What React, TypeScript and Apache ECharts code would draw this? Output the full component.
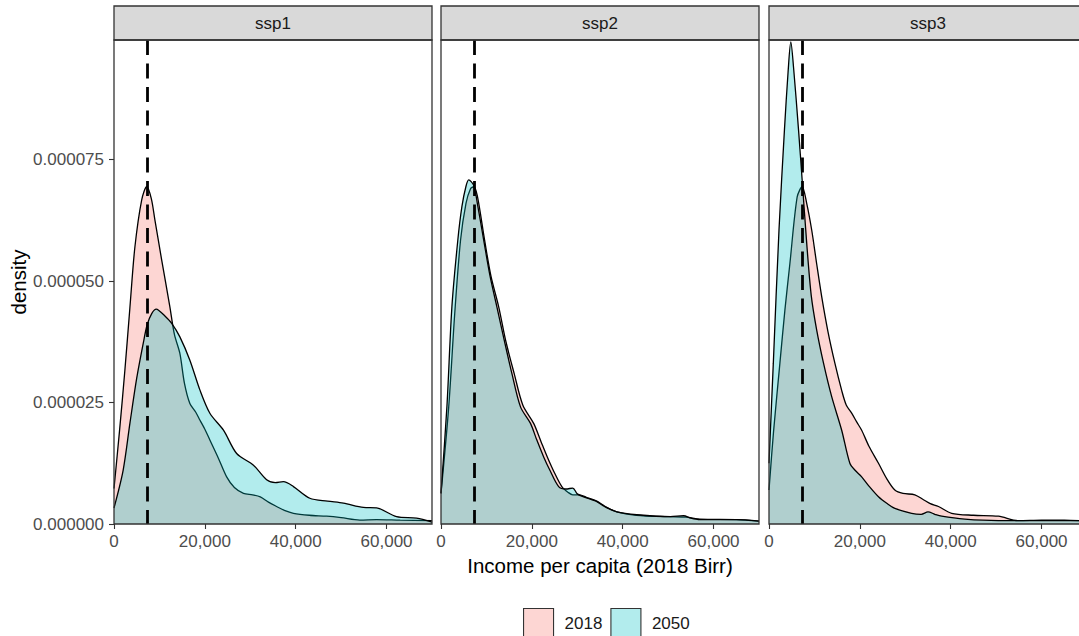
import React, { useEffect, useRef } from 'react';
import * as echarts from 'echarts';

// ---------- data ----------
const PANELS = ['ssp1', 'ssp2', 'ssp3'];
const YEARS = ['2018', '2050'];
const X_TICKS = [0, 20000, 40000, 60000];
const Y_TICKS = [0, 0.000025, 0.00005, 0.000075];
const X_MAX = 70000;
const Y_MAX = 0.0000996;
const MEDIAN_2018 = 7300; // dashed reference line (Birr)
const X_UNIT = 1000; // income values below are in thousand Birr
const Y_UNIT = 1e-5; // density values below are in units of 1e-5

const ssp1_2018 = [
  [0, 0.73], [1.2, 1.9], [2.4, 3.17], [3.5, 4.45], [4.6, 5.7], [6.1, 6.67], [7.2, 6.94], [8.2, 6.7],
  [9, 6.26], [10.5, 5.43], [12.3, 4.47], [13.3, 3.9], [14.5, 3.51], [15.5, 2.9], [16.7, 2.48],
  [18, 2.3], [18.9, 2.14], [20, 1.95], [21.1, 1.73], [23, 1.35], [24.8, 0.97], [26.5, 0.75],
  [28.5, 0.63], [30.5, 0.6], [32.2, 0.56], [34, 0.45], [35.8, 0.36], [37.5, 0.28], [39.5, 0.22],
  [43, 0.18], [46.8, 0.16], [50, 0.13], [54.1, 0.08], [57.8, 0.09], [63, 0.08], [70, 0.07],
];
const ssp1_2050 = [
  [0, 0.33], [2, 1.1], [3.5, 2.07], [5, 3.0], [6.5, 3.75], [7.3, 4.1], [8.3, 4.33], [9.3, 4.42],
  [9.8, 4.4], [11, 4.3], [12.7, 4.13], [14.5, 3.85], [16.7, 3.37], [18.9, 2.76], [21.1, 2.28],
  [24.1, 1.93], [27, 1.45], [30.7, 1.21], [33.6, 0.91], [35.5, 0.85], [37.3, 0.87], [39.5, 0.77],
  [43.1, 0.53], [47, 0.47], [50.5, 0.43], [54.9, 0.34], [57.8, 0.33], [62.2, 0.15], [66.6, 0.12],
  [70, 0.04],
];
const ssp2_2018 = [
  [0, 0.63], [1.7, 2.41], [3, 4.3], [4.3, 5.84], [5.5, 6.6], [6.5, 6.9], [7.2, 6.94], [8, 6.75],
  [9.6, 5.84], [11, 5.1], [12.7, 4.47], [14.3, 3.75], [16.1, 3.1], [18, 2.45], [20.4, 2.07],
  [22, 1.7], [23.4, 1.38], [25, 1.05], [26.6, 0.77], [28, 0.65], [29, 0.6], [30.5, 0.6],
  [32, 0.55], [34.3, 0.47], [36, 0.37], [38.7, 0.25], [43, 0.18], [50, 0.15], [54, 0.14],
  [57, 0.1], [65, 0.09], [70, 0.06],
];
const ssp2_2050 = [
  [0, 0.63], [1.3, 2.41], [2.4, 4.47], [3.7, 5.84], [4.6, 6.53], [5.5, 6.95], [6.1, 7.08],
  [7.2, 6.97], [8, 6.6], [9.4, 5.84], [10.8, 5.1], [12.3, 4.47], [14, 3.75], [15.6, 3.1],
  [17.5, 2.41], [19.7, 2.07], [21, 1.75], [22.6, 1.38], [24, 1.1], [25.9, 0.77], [27.5, 0.72],
  [29, 0.74], [30, 0.62], [31.4, 0.56], [34.3, 0.46], [36, 0.36], [38.7, 0.25], [43.1, 0.19],
  [50.5, 0.15], [53.4, 0.17], [55, 0.12], [57, 0.09], [65, 0.09], [70, 0.06],
];
const ssp3_2018 = [
  [0, 0.7], [1, 1.9], [2.4, 3.31], [3.5, 4.4], [4.6, 5.36], [6.2, 6.73], [7.3, 6.94], [8.3, 6.6],
  [9.4, 6.05], [10.5, 5.35], [11.6, 4.68], [13, 3.95], [14.5, 3.31], [16, 2.75], [17, 2.45],
  [18.2, 2.28], [19.3, 2.1], [20.4, 1.93], [22, 1.6], [24.1, 1.25], [26, 0.92], [27.7, 0.7],
  [29.5, 0.63], [32.1, 0.6], [34, 0.5], [35.5, 0.42], [37.3, 0.36], [40.2, 0.22], [45, 0.18],
  [50.5, 0.16], [54.9, 0.07], [60, 0.08], [65, 0.08], [70, 0.06],
];
const ssp3_2050 = [
  [0, 1.25], [0.95, 3.31], [2.2, 6.05], [3.4, 8.11], [4.2, 9.3], [4.8, 9.92], [5.4, 9.4],
  [6.5, 8.11], [7.3, 7.08], [8.3, 5.78], [9.3, 4.7], [10.5, 3.99], [12, 3.31], [13.8, 2.62],
  [16, 1.93], [17.8, 1.25], [19, 1.1], [20.4, 0.97], [22, 0.78], [24.1, 0.56], [26, 0.42],
  [27.7, 0.32], [31.4, 0.22], [33.5, 0.2], [35, 0.25], [36.5, 0.2], [38, 0.16], [43.1, 0.1],
  [50.5, 0.07], [60, 0.07], [70, 0.07],
];
const SERIES_DATA = [
  [ssp1_2018, ssp1_2050],
  [ssp2_2018, ssp2_2050],
  [ssp3_2018, ssp3_2050],
];

// ---------- style / layout ----------
const FONT = '"Liberation Sans", Arial, Helvetica, sans-serif';
const FILLS = ['rgba(248,118,109,0.3)', 'rgba(0,191,196,0.3)'];
const GRID_LEFTS = [114, 441, 769];
const GRID_W = 318;
const GRID_TOP = 40;
const GRID_H = 484;
const STRIP_TOP = 6;

function buildOption() {
  const grids = GRID_LEFTS.map((left) => ({
    left,
    top: GRID_TOP,
    width: GRID_W,
    height: GRID_H,
    show: false,
  }));

  const xAxes = PANELS.map((_, i) => ({
    type: 'value',
    gridIndex: i,
    min: 0,
    max: X_MAX,
    interval: 20000,
    splitLine: { show: false },
    axisLine: { show: false },
    axisTick: {
      show: true,
      length: 5,
      customValues: X_TICKS,
      lineStyle: { color: '#333333', width: 1.1 },
    },
    axisLabel: {
      customValues: X_TICKS,
      margin: 9,
      fontSize: 17,
      color: '#4D4D4D',
      fontFamily: FONT,
      formatter: (v: number) => v.toLocaleString('en-US'),
    },
    name: i === 1 ? 'Income per capita (2018 Birr)' : '',
    nameLocation: 'middle',
    nameGap: 30,
    nameTextStyle: { fontSize: 20.5, color: '#000', fontFamily: FONT },
  }));

  const yAxes = PANELS.map((_, i) => ({
    type: 'value',
    gridIndex: i,
    min: 0,
    max: Y_MAX,
    interval: 0.000025,
    show: i === 0,
    splitLine: { show: false },
    axisLine: { show: false },
    axisTick: {
      show: true,
      length: 5,
      customValues: Y_TICKS,
      lineStyle: { color: '#333333', width: 1.1 },
    },
    axisLabel: {
      customValues: Y_TICKS,
      margin: 10,
      fontSize: 17,
      color: '#4D4D4D',
      fontFamily: FONT,
      formatter: (v: number) => v.toFixed(6),
    },
    name: i === 0 ? 'density' : '',
    nameLocation: 'middle',
    nameGap: 78,
    nameTextStyle: { fontSize: 20.5, color: '#000', fontFamily: FONT },
  }));

  const series: any[] = [];
  PANELS.forEach((_, p) => {
    YEARS.forEach((year, k) => {
      const s: any = {
        type: 'line',
        name: year,
        xAxisIndex: p,
        yAxisIndex: p,
        data: SERIES_DATA[p][k].map(([x, d]) => [x * X_UNIT, d * Y_UNIT]),
        showSymbol: false,
        symbol: 'none',
        smooth: 0.3,
        color: FILLS[k],
        lineStyle: { color: '#000', width: 1.3 },
        areaStyle: { color: FILLS[k], opacity: 1 },
        z: 2 + k,
        silent: true,
      };
      if (k === 1) {
        s.markLine = {
          silent: true,
          symbol: ['none', 'none'],
          label: { show: false },
          z: 10,
          lineStyle: { color: '#000', width: 2.8, type: [15, 8.5] },
          data: [[{ coord: [MEDIAN_2018, Y_MAX] }, { coord: [MEDIAN_2018, 0] }]],
        };
      }
      series.push(s);
    });
  });

  const graphics: any[] = [];
  PANELS.forEach((name, p) => {
    const left = GRID_LEFTS[p];
    graphics.push({
      type: 'rect',
      z: 100,
      silent: true,
      shape: { x: left, y: STRIP_TOP, width: GRID_W, height: GRID_TOP - STRIP_TOP },
      style: { fill: '#D9D9D9', stroke: '#333333', lineWidth: 1.3 },
    });
    graphics.push({
      type: 'text',
      z: 101,
      silent: true,
      x: left + GRID_W / 2,
      y: (STRIP_TOP + GRID_TOP) / 2,
      style: {
        text: name,
        fill: '#1A1A1A',
        fontSize: 17,
        fontFamily: FONT,
        align: 'center',
        verticalAlign: 'middle',
      },
    });
    graphics.push({
      type: 'rect',
      z: 100,
      silent: true,
      shape: { x: left, y: GRID_TOP, width: GRID_W, height: GRID_H },
      style: { fill: 'none', stroke: '#333333', lineWidth: 1.3 },
    });
  });

  return {
    animation: false,
    backgroundColor: '#ffffff',
    grid: grids,
    xAxis: xAxes,
    yAxis: yAxes,
    series,
    graphic: graphics,
    legend: {
      data: YEARS.map((y, k) => ({
        name: y,
        icon: 'rect',
        itemStyle: { color: FILLS[k], borderColor: '#333333', borderWidth: 1.1 },
      })),
      left: 523,
      top: 608,
      padding: 0,
      itemWidth: 30,
      itemHeight: 30,
      itemGap: 8,
      selectedMode: false,
      textStyle: { fontSize: 17, color: '#1A1A1A', fontFamily: FONT, padding: [0, 0, 0, 6] },
    },
  };
}

export default function App() {
  const ref = useRef<HTMLDivElement>(null);
  useEffect(() => {
    if (!ref.current) return;
    const chart = echarts.init(ref.current, undefined, { renderer: 'svg' });
    chart.setOption(buildOption() as any);
    return () => chart.dispose();
  }, []);
  return (
    <div
      style={{
        position: 'fixed',
        left: 0,
        top: 0,
        width: 1079,
        height: 636,
        overflow: 'hidden',
        background: '#fff',
      }}
    >
      <div ref={ref} style={{ width: 1090, height: 650 }} />
    </div>
  );
}
